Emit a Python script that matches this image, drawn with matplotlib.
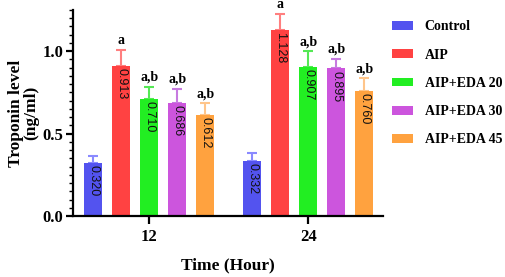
import numpy as np
import matplotlib.pyplot as plt
from matplotlib.patches import Patch
from matplotlib.ticker import MultipleLocator

# === Datos ===
tiempos = ["12", "24"]
grupos = ["Control", "AIP", "AIP+EDA 20", "AIP+EDA 30", "AIP+EDA 45"]
valores = [
    [0.320, 0.332],
    [0.913, 1.128],
    [0.710, 0.907],
    [0.686, 0.895],
    [0.612, 0.760],
]
errores = [
    [0.046, 0.048],
    [0.093, 0.096],
    [0.075, 0.093],
    [0.086, 0.060],
    [0.073, 0.075],
]
letras = [
    ["", ""],
    ["a", "a"],
    ["a,b", "a,b"],
    ["a,b", "a,b"],
    ["a,b", "a,b"],
]
colores = ["#5353ef", "#ff4242", "#22ee22", "#cc55dd", "#ffa23f"]
colores_err = ["#8a8aff", "#ff7f7f", "#55e855", "#c77ae0", "#ffc58a"]

serif = "Liberation Serif"

fig = plt.figure(figsize=(5.05, 2.77), dpi=100)
ax = fig.add_axes([0.1446, 0.2202, 0.6138, 0.7438])

x = np.arange(len(tiempos))
paso = 0.176
ancho = 0.113

for i, g in enumerate(grupos):
    pos = x + (i - 2) * paso
    ax.bar(pos, valores[i], width=ancho, color=colores[i], zorder=2)
    ax.errorbar(pos, valores[i], yerr=[np.zeros(2), errores[i]], fmt="none",
                ecolor=colores_err[i], elinewidth=1.5, capsize=3.8, capthick=1.5, zorder=1)
    for j in range(len(tiempos)):
        ax.annotate(f"{valores[i][j]:.3f}", (pos[j], valores[i][j]), xytext=(0, -1.5),
                    textcoords="offset points", rotation=-90, ha="center", va="top",
                    fontsize=9, family="Liberation Sans", color="#111111")
        if letras[i][j]:
            ax.annotate(letras[i][j], (pos[j], valores[i][j] + errores[i][j]), xytext=(0, 2),
                        textcoords="offset points", ha="center", va="bottom",
                        fontsize=10, family=serif, fontweight="bold")

ax.set_xlim(-0.478, 1.47)
ax.set_ylim(0, 1.25)
ax.set_xticks(x)
ax.set_xticklabels(tiempos, family=serif, fontweight="bold", fontsize=12)
ax.set_yticks([0, 0.5, 1.0])
ax.set_yticklabels(["0.0", "0.5", "1.0"], family=serif, fontweight="bold", fontsize=12)
ax.yaxis.set_minor_locator(MultipleLocator(0.05))

for s in ["top", "right"]:
    ax.spines[s].set_visible(False)
for s in ["left", "bottom"]:
    ax.spines[s].set_linewidth(1.6)
ax.tick_params(axis="y", which="major", length=5, width=1.6, pad=2)
ax.tick_params(axis="y", which="minor", length=3, width=1.0)
ax.tick_params(axis="x", length=6, width=1.6, pad=3)

ax.set_ylabel("Troponin level\n(ng/ml)", family=serif, fontweight="bold", fontsize=12.5,
              labelpad=2, linespacing=1.0)
ax.set_xlabel("Time (Hour)", family=serif, fontweight="bold", fontsize=12.5, labelpad=9)

handles = [Patch(facecolor=c) for c in colores]
fig.legend(handles, grupos, loc="upper left", bbox_to_anchor=(0.751, 0.972), frameon=False,
           prop={"family": serif, "weight": "bold", "size": 10}, handlelength=1.5,
           handleheight=0.58, handletextpad=0.86, labelspacing=1.1)

plt.savefig("out.png", dpi=100)
